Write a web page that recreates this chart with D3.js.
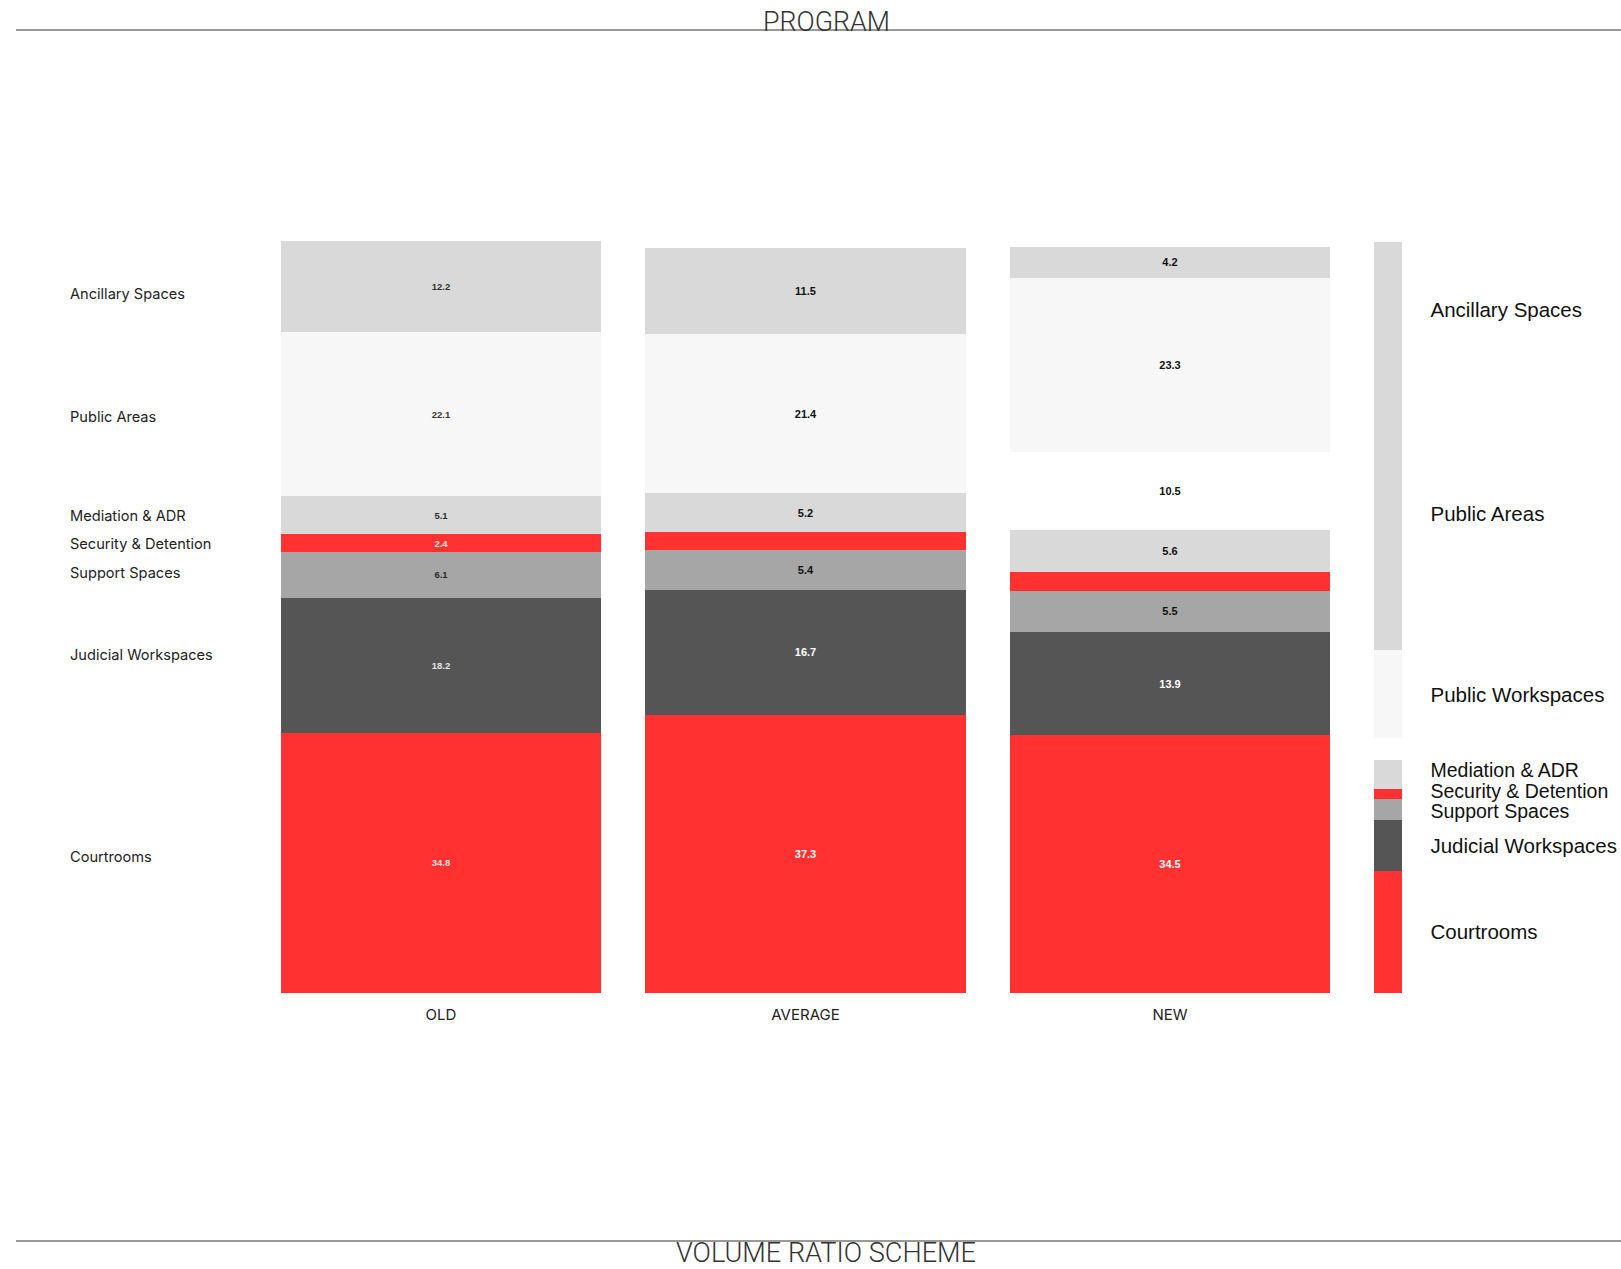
<!DOCTYPE html>
<html>
<head>
<meta charset="utf-8">
<script src="https://cdn.jsdelivr.net/npm/d3@7"></script>
<style>
html,body{margin:0;padding:0;background:#fff;}
svg{display:block;}
</style>
</head>
<body>
<svg id="chart" width="1621" height="1269"></svg>
<script>
// ---- data ----
const categories = ["OLD", "AVERAGE", "NEW"];
const seriesNames = ["Courtrooms", "Judicial Workspaces", "Support Spaces", "Security & Detention",
                     "Mediation & ADR", "Public Workspaces", "Public Areas", "Ancillary Spaces"];
const oldValues     = [34.8, 18.2, 6.1, 2.4, 5.1, 0,    22.1, 12.2];
const averageValues = [37.3, 16.7, 5.4, 2.4, 5.2, 0,    21.4, 11.5];
const newValues     = [34.5, 13.9, 5.5, 2.6, 5.6, 10.5, 23.3, 4.2];
const oldLabels     = ["34.8", "18.2", "6.1", "2.4", "5.1", "", "22.1", "12.2"];
const averageLabels = ["37.3", "16.7", "5.4", "", "5.2", "", "21.4", "11.5"];
const newLabels     = ["34.5", "13.9", "5.5", "", "5.6", "10.5", "23.3", "4.2"];
const leftLabelNames = ["Ancillary Spaces", "Public Areas", "Mediation & ADR", "Security & Detention",
                        "Support Spaces", "Judicial Workspaces", "Courtrooms"];
// schematic legend bar (relative sizes, bottom to top)
const legendNames = ["Courtrooms", "Judicial Workspaces", "Support Spaces", "Security & Detention",
                     "Mediation & ADR", "gap", "Public Workspaces", "Public Areas", "Ancillary Spaces"];
const legendSizes = [16.2, 6.8, 2.8, 1.3, 3.9, 2.9, 11.7, 36.5, 17.9];
const titleTop = "PROGRAM";
const titleBottom = "VOLUME RATIO SCHEME";

// ---- styles ----
const seriesColor = d3.scaleOrdinal()
  .domain(seriesNames)
  .range(["#ff3131", "#555555", "#a6a6a6", "#ff3131", "#d9d9d9", "#ffffff", "#f7f7f7", "#d9d9d9"]);
const legendColor = d3.scaleOrdinal()
  .domain(legendNames)
  .range(["#ff3131", "#555555", "#a6a6a6", "#ff3131", "#d9d9d9", "#ffffff", "#f7f7f7", "#d9d9d9", "#d9d9d9"]);
const darkSeries = new Set(["Courtrooms", "Judicial Workspaces", "Security & Detention"]);

const svg = d3.select("#chart");

// ---- table for stack ----
const valueRows = [oldValues, averageValues, newValues];
const labelRows = [oldLabels, averageLabels, newLabels];
const table = categories.map((c, i) => {
  const row = {category: c};
  seriesNames.forEach((s, j) => { row[s] = valueRows[i][j]; });
  return row;
});
const labelLookup = {};
categories.forEach((c, i) => {
  labelLookup[c] = {};
  seriesNames.forEach((s, j) => { labelLookup[c][s] = labelRows[i][j]; });
});
const stacked = d3.stack().keys(seriesNames)(table);

// ---- scales ----
const x = d3.scaleBand()
  .domain([...categories, "legend"])
  .range([281, 1694.5])
  .paddingInner(0.122)
  .paddingOuter(0);
const y = d3.scaleLinear().domain([0, 100]).range([992.5, 247.5]);

// ---- bars ----
const g = svg.append("g");
stacked.forEach(layer => {
  const key = layer.key;
  layer.forEach(seg => {
    const c = seg.data.category;
    if (seg[1] - seg[0] <= 0) return;
    g.append("rect")
      .attr("x", x(c))
      .attr("y", y(seg[1]))
      .attr("width", x.bandwidth())
      .attr("height", y(seg[0]) - y(seg[1]))
      .attr("fill", seriesColor(key))
      .attr("shape-rendering", "crispEdges");
    const lab = labelLookup[c][key];
    if (lab) {
      g.append("text")
        .attr("x", x(c) + x.bandwidth() / 2)
        .attr("y", (y(seg[0]) + y(seg[1])) / 2)
        .attr("text-anchor", "middle")
        .attr("dominant-baseline", "central")
        .attr("font-family", "Liberation Sans, Arial, sans-serif")
        .attr("font-weight", "bold")
        .attr("font-size", c === "OLD" ? 9.5 : 11)
        .attr("fill", darkSeries.has(key) ? "#ffffff" : "#111111")
        .attr("opacity", c === "OLD" ? 0.85 : 1)
        .text(lab);
    }
  });
});

// ---- category labels ----
categories.forEach(c => {
  svg.append("text")
    .attr("x", x(c) + x.bandwidth() / 2)
    .attr("y", 1020)
    .attr("text-anchor", "middle")
    .attr("font-family", "Inter, Liberation Sans, sans-serif")
    .attr("font-size", 15)
    .attr("fill", "#222")
    .text(c);
});

// ---- left labels (aligned with AVERAGE segments) ----
const avgStack = {};
stacked.forEach(layer => { avgStack[layer.key] = layer[1]; });
leftLabelNames.forEach(name => {
  const seg = avgStack[name];
  svg.append("text")
    .attr("x", 70)
    .attr("y", (y(seg[0]) + y(seg[1])) / 2 + 3)
    .attr("dominant-baseline", "central")
    .attr("font-family", "Inter, Liberation Sans, sans-serif")
    .attr("font-size", 14.6)
    .attr("fill", "#222")
    .text(name);
});

// ---- schematic legend bar ----
const ly = d3.scaleLinear().domain([0, d3.sum(legendSizes)]).range([992.5, 242]);
let acc = 0;
const legendX = x("legend");
const legendCenters = {};
legendNames.forEach((name, i) => {
  const y0 = ly(acc), y1 = ly(acc + legendSizes[i]);
  acc += legendSizes[i];
  legendCenters[name] = (y0 + y1) / 2;
  svg.append("rect")
    .attr("x", legendX)
    .attr("y", Math.round(y1))
    .attr("width", 28)
    .attr("height", Math.round(y0) - Math.round(y1))
    .attr("fill", legendColor(name))
    .attr("shape-rendering", "crispEdges");
});
// small-segment labels are stacked around the Security label
const stackedLegend = {"Mediation & ADR": -1, "Security & Detention": 0, "Support Spaces": 1};
legendNames.forEach(name => {
  if (name === "gap") return;
  let cy = legendCenters[name];
  if (name in stackedLegend) cy = legendCenters["Security & Detention"] - 3 + stackedLegend[name] * 20.5;
  svg.append("text")
    .attr("x", legendX + 56)
    .attr("y", cy)
    .attr("dominant-baseline", "central")
    .attr("font-family", "Liberation Sans, Arial, sans-serif")
    .attr("font-size", name in stackedLegend ? 19.5 : 20.5)
    .attr("fill", "#111")
    .text(name);
});

// ---- titles and rules ----
svg.append("line").attr("x1", 16).attr("x2", 1621).attr("y1", 30).attr("y2", 30)
  .attr("stroke", "#333").attr("stroke-width", 1.2);
svg.append("text")
  .attr("x", 763).attr("y", 31)
  .attr("font-family", "Roboto, Liberation Sans, sans-serif")
  .attr("font-weight", 300)
  .attr("font-size", 28)
  .attr("fill", "#333")
  .attr("textLength", 127)
  .attr("lengthAdjust", "spacingAndGlyphs")
  .text(titleTop);

svg.append("line").attr("x1", 16).attr("x2", 1621).attr("y1", 1241).attr("y2", 1241)
  .attr("stroke", "#777").attr("stroke-width", 1.5);
svg.append("text")
  .attr("x", 676).attr("y", 1262)
  .attr("font-family", "Roboto, Liberation Sans, sans-serif")
  .attr("font-weight", 300)
  .attr("font-size", 28)
  .attr("fill", "#333")
  .attr("textLength", 300)
  .attr("lengthAdjust", "spacingAndGlyphs")
  .text(titleBottom);
</script>
</body>
</html>
